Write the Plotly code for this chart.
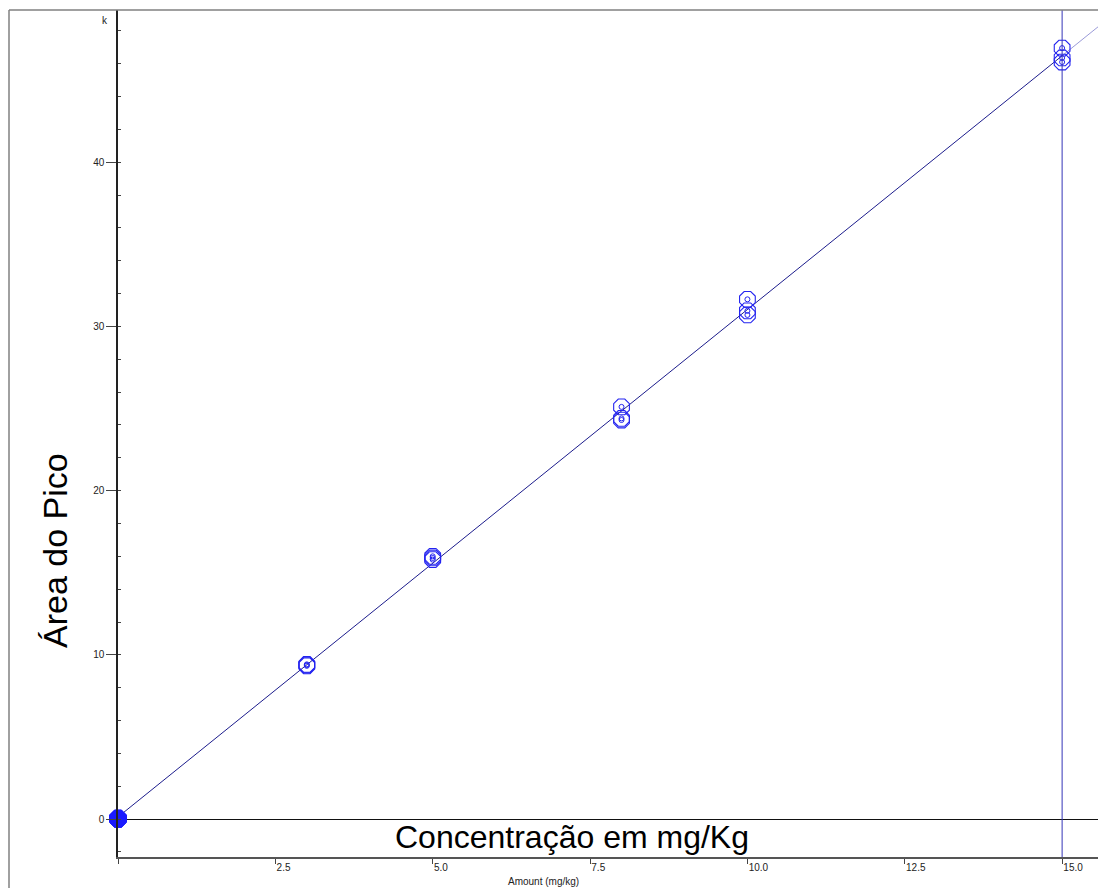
import numpy as np
import plotly.graph_objects as go

# Calibration standards: amount (mg/kg) vs. peak area (thousands of counts)
amount = [0, 0, 0, 3, 3, 3, 5, 5, 5, 8, 8, 8, 10, 10, 10, 15, 15, 15]
area_k = [0.0, 0.02, 0.05, 9.33, 9.38, 9.42, 15.8, 15.9, 16.0,
          25.1, 24.4, 24.3, 31.65, 30.95, 30.7, 46.95, 46.35, 46.1]

x_ticks = [0, 2.5, 5.0, 7.5, 10.0, 12.5, 15.0]
x_ticktext = ["", "2.5", "5.0", "7.5", "10.0", "12.5", "15.0"]
y_ticks = [0, 10, 20, 30, 40]

x_max = 15.57
y_range = [-2.31, 49.27]
calib_top = 15.0

# least-squares calibration line
slope, intercept = np.polyfit(amount, area_k, 1)
fit_x = np.array([0.0, calib_top])
ext_x = np.array([calib_top, x_max])

font = "Liberation Sans, Arial, sans-serif"
blue = "#2424f0"

fig = go.Figure()

# extrapolated part of the calibration line
fig.add_trace(go.Scatter(
    x=ext_x, y=slope * ext_x + intercept, mode="lines",
    line=dict(color="#9a9ad8", width=1), hoverinfo="skip", showlegend=False))
# calibrated range
fig.add_trace(go.Scatter(
    x=fit_x, y=slope * fit_x + intercept, mode="lines",
    line=dict(color="#1c1c8c", width=1), hoverinfo="skip", showlegend=False))

# blanks drawn as filled markers, standards as open octagons with a small ring
blank_x = [a for a in amount if a == 0]
blank_y = [v for a, v in zip(amount, area_k) if a == 0]
std_x = [a for a in amount if a != 0]
std_y = [v for a, v in zip(amount, area_k) if a != 0]

fig.add_trace(go.Scatter(
    x=std_x, y=std_y, mode="markers",
    marker=dict(symbol="octagon-open", size=17, color=blue,
                line=dict(width=1.1, color=blue)),
    showlegend=False))
fig.add_trace(go.Scatter(
    x=std_x, y=std_y, mode="markers", hoverinfo="skip",
    marker=dict(symbol="circle-open", size=5, color=blue,
                line=dict(width=1, color=blue)),
    showlegend=False))
fig.add_trace(go.Scatter(
    x=blank_x, y=blank_y, mode="markers",
    marker=dict(symbol="octagon", size=18, color="#1a1aff",
                line=dict(width=1, color="#1a1aff")),
    showlegend=False, cliponaxis=False))

# vertical marker at the highest standard
fig.add_shape(type="line", xref="x", yref="paper", x0=calib_top, x1=calib_top,
              y0=0, y1=1, line=dict(color="#3535b8", width=1))

# outer frame (left and top)
left_px = (9 - 118) / 980
bottom_px = -(888 - 857) / 847
fig.add_shape(type="line", xref="paper", yref="paper", x0=left_px, x1=left_px,
              y0=bottom_px, y1=1, line=dict(color="#808080", width=1.5))
fig.add_shape(type="line", xref="paper", yref="paper", x0=left_px, x1=1.0,
              y0=1, y1=1, line=dict(color="#808080", width=1.5))

annotations = [
    dict(text="Concentração em mg/Kg", xref="paper", yref="paper",
         x=0.4628, y=0.0236, xanchor="center", yanchor="middle",
         showarrow=False, font=dict(size=32, color="#000", family=font)),
    dict(text="Área do Pico", xref="paper", yref="paper",
         x=-0.0643, y=0.3625, xanchor="center", yanchor="middle",
         textangle=-90, showarrow=False,
         font=dict(size=34, color="#000", family=font)),
    dict(text="Amount (mg/kg)", xref="paper", yref="paper",
         x=0.4337, y=-0.0286, xanchor="center", yanchor="middle",
         showarrow=False, font=dict(size=10, color="#222", family=font)),
    dict(text="k", xref="paper", yref="paper",
         x=-0.0133, y=0.988, xanchor="center", yanchor="middle",
         showarrow=False, font=dict(size=10, color="#222", family=font)),
]

fig.update_layout(
    width=1098, height=888, autosize=False,
    margin=dict(l=118, r=0, t=10, b=31, pad=0),
    paper_bgcolor="white", plot_bgcolor="white",
    font=dict(family=font, size=10, color="#222"),
    annotations=annotations,
    xaxis=dict(
        range=[0, x_max], tickvals=x_ticks, ticktext=x_ticktext,
        ticks="outside", ticklen=5, tickcolor="#444", tickwidth=1,
        ticklabelposition="outside right",
        showline=True, linecolor="#555", linewidth=1.5,
        showgrid=False, zeroline=False, fixedrange=True,
        tickfont=dict(size=10, color="#222"),
    ),
    yaxis=dict(
        range=y_range, tickvals=y_ticks,
        ticks="outside", ticklen=10, tickcolor="#444", tickwidth=1,
        ticklabelstandoff=0,
        showline=True, linecolor="#222", linewidth=1.5,
        showgrid=False, zeroline=True, zerolinecolor="#111", zerolinewidth=1.2,
        minor=dict(dtick=2, ticks="inside", ticklen=3, tickcolor="#444"),
        tickfont=dict(size=10, color="#222"),
    ),
)

fig.write_html("out.html")
